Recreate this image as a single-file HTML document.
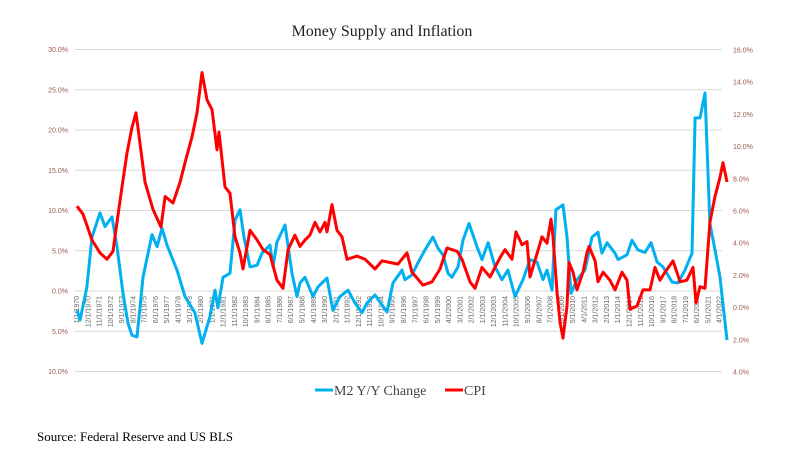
<!DOCTYPE html>
<html><head><meta charset="utf-8"><style>
body{margin:0;background:#fff;width:800px;height:450px;overflow:hidden}
svg{display:block}
</style></head><body>
<svg id="chart" width="800" height="450" xmlns="http://www.w3.org/2000/svg">
<text x="382" y="36" text-anchor="middle" font-family="Liberation Serif, serif" font-size="16" fill="#222">Money Supply and Inflation</text>
<g id="grid"></g>
<g id="yl"></g>
<g id="yr"></g>
<g id="xl"></g>
<g id="series"></g>
<g>
<g><line x1="315" y1="390" x2="333" y2="390" stroke="#00b0f0" stroke-width="3"/><text x="334" y="395" font-family="Liberation Serif, serif" font-size="14" fill="#444">M2  Y/Y Change</text></g>
<g><line x1="445" y1="390" x2="463" y2="390" stroke="#ff0000" stroke-width="3"/><text x="464" y="395" font-family="Liberation Serif, serif" font-size="14" fill="#444">CPI</text></g>
</g>
<text x="37" y="441" font-family="Liberation Serif, serif" font-size="13" fill="#000">Source: Federal Reserve and US BLS</text>
</svg>
<script>
const leftTicks=[30,25,20,15,10,5,0,-5,-10];
const leftTickLabels=["30.0%","25.0%","20.0%","15.0%","10.0%","5.0%","0.0%","5.0%","10.0%"];
const rightTicks=[16,14,12,10,8,6,4,2,0,-2,-4];
const rightTickLabels=["16.0%","14.0%","12.0%","10.0%","8.0%","6.0%","4.0%","2.0%","0.0%","2.0%","4.0%"];
const m2Dates=[1970.08,1970.33,1970.89,1971.30,1971.95,1972.36,1972.93,1973.33,1973.82,1974.23,1974.55,1974.96,1975.45,1976.18,1976.59,1976.99,1977.40,1978.21,1978.86,1979.67,1980.24,1980.89,1981.30,1981.54,1981.95,1982.52,1982.93,1983.33,1983.66,1984.15,1984.72,1985.12,1985.77,1986.02,1986.34,1986.99,1987.56,1987.97,1988.21,1988.62,1989.27,1989.67,1990.41,1990.89,1991.46,1992.11,1992.68,1993.25,1993.66,1994.31,1995.28,1995.77,1996.50,1996.75,1997.32,1997.80,1998.37,1999.02,1999.43,1999.84,2000.24,2000.57,2001.06,2001.46,2001.95,2002.60,2003.01,2003.50,2004.07,2004.63,2005.12,2005.69,2006.34,2006.91,2007.48,2007.97,2008.29,2008.70,2009.02,2009.59,2009.92,2010.24,2010.73,2011.38,2011.95,2012.44,2012.76,2013.17,2013.82,2014.07,2014.80,2015.20,2015.69,2016.26,2016.75,2017.24,2017.72,2018.46,2018.94,2019.51,2020.08,2020.33,2020.73,2021.14,2021.54,2021.95,2022.36,2022.93];
const m2Values=[-2.4,-3.6,0.5,6.7,9.7,8.0,9.2,5.5,-0.3,-4.0,-5.5,-5.7,1.7,7.0,5.5,7.8,5.7,2.6,-0.7,-2.7,-6.5,-3.2,0.1,-2.1,1.7,2.2,8.8,10.1,6.7,3.0,3.2,4.7,5.7,3.0,6.1,8.2,2.2,-0.7,1.0,1.7,-0.7,0.5,1.6,-2.4,-0.7,0.1,-1.5,-2.7,-1.5,-0.5,-2.6,1.0,2.6,1.4,2.0,3.5,5.1,6.7,5.3,4.5,2.2,1.7,3.0,6.3,8.4,5.5,3.9,6.0,3.0,1.4,2.6,-0.7,1.4,3.9,3.6,1.4,2.6,0.1,10.1,10.7,6.7,-0.3,1.4,2.6,6.7,7.3,4.7,6.0,4.7,3.9,4.5,6.3,5.1,4.8,6.0,3.6,3.0,1.1,1.0,2.6,4.7,21.5,21.5,24.6,8.4,5.1,1.7,-6.1];
const cpiDates=[1970.08,1970.57,1971.30,1971.95,1972.52,1973.01,1973.41,1973.74,1974.15,1974.55,1974.88,1975.20,1975.61,1976.26,1976.91,1977.24,1977.89,1978.46,1978.86,1979.43,1979.84,1980.24,1980.65,1981.06,1981.46,1981.63,1982.11,1982.52,1982.93,1983.33,1983.58,1984.15,1984.72,1985.20,1985.77,1986.34,1986.83,1987.24,1987.80,1988.21,1988.62,1989.02,1989.43,1989.84,1990.24,1990.41,1990.81,1991.22,1991.63,1992.03,1992.85,1993.50,1994.31,1994.88,1995.53,1996.18,1996.91,1997.32,1998.21,1998.94,1999.59,2000.16,2000.98,2001.38,2002.03,2002.44,2003.01,2003.66,2004.47,2004.88,2005.45,2005.77,2006.26,2006.67,2006.91,2007.15,2007.89,2008.29,2008.62,2008.78,2009.11,2009.35,2009.59,2009.92,2010.08,2010.41,2010.73,2011.22,2011.54,2011.71,2012.20,2012.44,2012.85,2013.41,2013.82,2014.39,2014.80,2015.04,2015.61,2016.10,2016.67,2017.07,2017.48,2017.89,2018.54,2019.11,2019.67,2020.16,2020.41,2020.73,2021.14,2021.54,2021.95,2022.36,2022.60,2022.93];
const cpiValues=[6.3,5.8,4.2,3.4,3.0,3.5,5.7,7.5,9.6,11.2,12.1,10.2,7.8,6.1,5.0,6.9,6.5,7.8,9.0,10.6,12.1,14.6,12.9,12.3,9.8,10.9,7.5,7.1,4.4,3.4,2.4,4.8,4.2,3.6,3.3,1.7,1.2,3.6,4.5,3.8,4.2,4.5,5.3,4.7,5.3,4.7,6.4,4.8,4.4,3.0,3.2,3.0,2.4,2.9,2.8,2.7,3.4,2.2,1.4,1.6,2.4,3.7,3.5,3.0,1.6,1.2,2.5,1.9,3.1,3.6,3.0,4.7,3.9,4.1,1.9,2.5,4.4,4.0,5.5,4.4,0.9,-0.9,-1.9,0.1,2.8,2.2,1.1,2.2,3.4,3.8,2.9,1.6,2.2,1.7,1.1,2.2,1.7,-0.1,0.1,1.1,1.1,2.5,1.7,2.2,2.9,1.6,1.7,2.5,0.3,1.3,1.2,5.3,6.9,8.1,9.0,7.8];

const NS='http://www.w3.org/2000/svg';
function el(tag,attrs,parent){const e=document.createElementNS(NS,tag);for(const k in attrs)e.setAttribute(k,attrs[k]);parent.appendChild(e);return e;}
const X0=75,X1=722;
function xScale(yr){return 76+(yr-1970)*12.3;}
function yLeft(v){return 291-v*8.05;}
function yRight(v){return 307.6-v*16.1;}

const grid=document.getElementById('grid'),yl=document.getElementById('yl'),yr=document.getElementById('yr'),xl=document.getElementById('xl'),series=document.getElementById('series');
leftTicks.forEach((t,i)=>{
  const y=yLeft(t);
  const g=el('line',{x1:X0,x2:X1,y1:y,y2:y,stroke:'#d9d9d9','stroke-width':1},grid);
  
  
  const tx=el('text',{x:68,y:y+2.5,'text-anchor':'end','font-family':'Liberation Sans, sans-serif','font-size':7,fill:'#9c5a4a'},yl);
  
  
  tx.textContent=leftTickLabels[i];
});
rightTicks.forEach((t,i)=>{
  const y=yRight(t);
  const tx=el('text',{x:733,y:y+2.5,'font-family':'Liberation Sans, sans-serif','font-size':7,fill:'#9c5a4a'},yr);
  
  
  tx.textContent=rightTickLabels[i];
});
for(let m=0;m<=627;m+=11){
  const yrv=1970+Math.floor(m/12),mo=m%12+1;
  const x=xScale(1970+m/12)+3;
  const tx=el('text',{x:0,y:0,'text-anchor':'end','font-family':'Liberation Sans, sans-serif','font-size':7,fill:'#666',transform:'translate('+x+',296) rotate(-90)'},xl);
  
  
  tx.textContent=mo+'/1/'+yrv;
}
function path(dates,vals,ys){return dates.map((d,i)=>(i?'L':'M')+xScale(d).toFixed(1)+','+ys(vals[i]).toFixed(1)).join(' ');}
const m2=el('path',{d:path(m2Dates,m2Values,yLeft),fill:'none',stroke:'#00b0f0','stroke-width':3,'stroke-linejoin':'round'},series);


const cpi=el('path',{d:path(cpiDates,cpiValues,yRight),fill:'none',stroke:'#ff0000','stroke-width':3,'stroke-linejoin':'round'},series);


</script>
</body></html>
